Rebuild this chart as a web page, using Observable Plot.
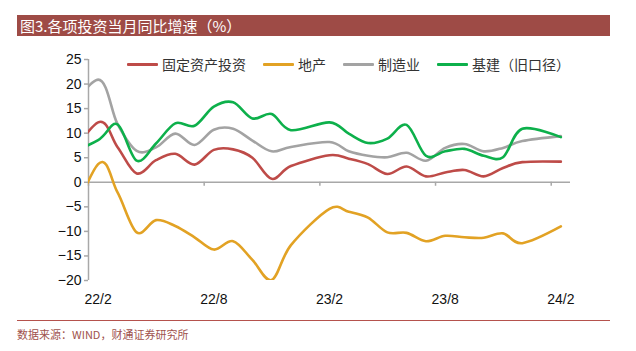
<!DOCTYPE html>
<html><head><meta charset="utf-8">
<script src="https://cdn.jsdelivr.net/npm/d3@7"></script>
<script src="https://cdn.jsdelivr.net/npm/@observablehq/plot@0.6"></script>
<style>
html,body{margin:0;padding:0;background:#fff;}
#wrap{position:relative;width:636px;height:351px;overflow:hidden;font-family:"Noto Sans CJK SC",sans-serif;}
#chart{position:absolute;left:0;top:0;}
#title{position:absolute;left:17px;top:15px;width:593px;height:21px;background:#9E4B46;color:#fff;font-size:15px;line-height:21px;padding-left:3px;box-sizing:border-box;white-space:nowrap;}
#legend{position:absolute;left:127px;top:55px;height:18px;display:flex;align-items:center;gap:17px;font-size:14px;color:#333;white-space:nowrap;}
#legend .item{display:flex;align-items:center;gap:4px;}
#legend .sw{width:31px;height:3px;border-radius:1px;}
#rule{position:absolute;left:17px;top:320px;width:593px;border-top:1px solid #B5524D;}
#source{position:absolute;left:17px;top:326px;font-size:11px;color:#A0524D;white-space:nowrap;}
</style></head>
<body>
<div id="wrap">
  <div id="chart"></div>
  <div id="title"></div>
  <div id="legend"></div>
  <div id="rule"></div>
  <div id="source"></div>
</div>
<script>
// ---- data ----
const titleText = "图3.各项投资当月同比增速（%）";
const sourceText = "数据来源：WIND，财通证券研究所";
const seriesNames = ["固定资产投资", "地产", "制造业", "基建（旧口径）"];
const seriesColors = ["#BE4B48", "#E2A224", "#A3A3A3", "#0DB04B"];
const months = ["21/12","22/2","22/3","22/4","22/5","22/6","22/7","22/8","22/9","22/10","22/11","22/12",
                "23/2","23/3","23/4","23/5","23/6","23/7","23/8","23/9","23/10","23/11","23/12","24/2"];
const fai   = [2.0, 12.2, 7.2, 1.8, 4.5, 5.8, 3.6, 6.6, 6.7, 5.0, 0.7, 3.3, 5.5, 4.8, 3.7, 1.7, 3.2, 1.2, 2.0, 2.5, 1.2, 2.9, 4.1, 4.2];
const realEstate = [-13.9, 3.7, -2.0, -10.2, -7.7, -8.9, -11.2, -13.7, -12.0, -15.8, -19.9, -12.8, -5.4, -6.0, -7.2, -10.2, -10.3, -12.0, -10.9, -11.2, -11.3, -10.4, -12.4, -9.0];
const manufacturing = [11.8, 20.9, 11.9, 6.4, 7.1, 9.9, 7.6, 10.7, 10.9, 8.5, 6.3, 7.2, 8.2, 6.3, 5.4, 5.1, 6.0, 4.4, 7.0, 7.8, 6.3, 7.0, 8.4, 9.4];
const infra = [5.0, 8.6, 11.8, 4.4, 7.9, 12.0, 11.5, 15.4, 16.3, 13.0, 13.9, 10.6, 12.2, 9.9, 8.0, 8.9, 11.7, 5.4, 6.3, 6.8, 5.4, 5.1, 10.9, 9.2];
const xLabels = ["22/2", "22/8", "23/2", "23/8", "24/2"];
const yTicks = [-20, -15, -10, -5, 0, 5, 10, 15, 20, 25];

// month label -> month index (22/2 = 0)
const mIndex = m => { const [yy, mm] = m.split("/").map(Number); return (yy - 22) * 12 + (mm - 2); };

const allSeries = [fai, realEstate, manufacturing, infra];
const rows = [];
allSeries.forEach((vals, si) => vals.forEach((v, i) => rows.push({series: seriesNames[si], t: mIndex(months[i]), v})));

const labelPos = xLabels.map(mIndex);
const tickPos = labelPos.map(p => p - 0.5);
const xDomain = [labelPos[0] - 0.5, labelPos[labelPos.length - 1] + 0.5];
const axisColor = "#A8A8A8";

const chart = Plot.plot({
  width: 636,
  height: 351,
  marginLeft: 88,
  marginRight: 66,
  marginTop: 59,
  marginBottom: 71,
  style: {fontFamily: "'Liberation Sans', Arial, sans-serif", fontSize: "14px", color: "#111", background: "transparent"},
  x: {type: "linear", domain: xDomain},
  y: {domain: [-20, 25]},
  color: {domain: seriesNames, range: seriesColors},
  marks: [
    Plot.ruleY([0], {stroke: axisColor, strokeWidth: 1.5}),
    Plot.ruleX([xDomain[0]], {stroke: axisColor, strokeWidth: 1.5}),
    Plot.ruleX(tickPos, {x: d => d, y1: 0, y2: 0, insetBottom: -4, stroke: axisColor, strokeWidth: 1.5}),
    Plot.axisY({ticks: yTicks, tickSize: 4, tickPadding: 3, stroke: axisColor, strokeWidth: 1.5, label: null, fill: "#111"}),
    Plot.axisX({ticks: labelPos, tickSize: 0, tickPadding: 14, label: null, tickFormat: d => xLabels[labelPos.indexOf(d)], fill: "#111"}),
    Plot.line(rows, {x: "t", y: "v", z: "series", stroke: "series", curve: "cardinal", tension: 0, strokeWidth: 2.6, clip: true})
  ]
});
document.getElementById("chart").appendChild(chart);

document.getElementById("title").textContent = titleText;
document.getElementById("source").textContent = sourceText;
const legend = document.getElementById("legend");
seriesNames.forEach((n, i) => {
  const it = document.createElement("div"); it.className = "item";
  const sw = document.createElement("div"); sw.className = "sw"; sw.style.background = seriesColors[i];
  const tx = document.createElement("span"); tx.textContent = n;
  it.appendChild(sw); it.appendChild(tx); legend.appendChild(it);
});
</script>
</body></html>
